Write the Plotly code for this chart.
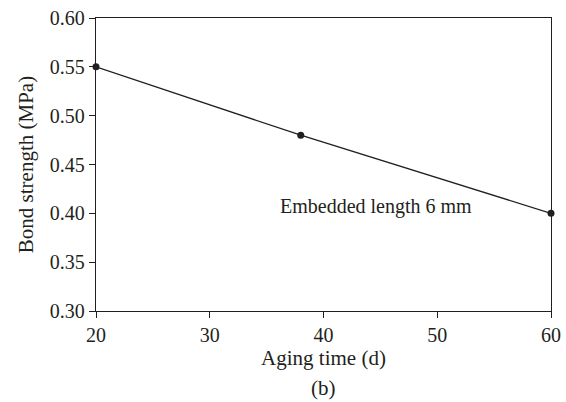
import plotly.graph_objects as go

aging_days = [20, 38, 60]
bond_strength = [0.55, 0.48, 0.40]
x_ticks = [20, 30, 40, 50, 60]
y_ticks = [0.30, 0.35, 0.40, 0.45, 0.50, 0.55, 0.60]

ink = "#231f20"
font = "Liberation Serif, Times New Roman, serif"
fs = 20
fs_title = 21

fig = go.Figure()
fig.add_trace(go.Scatter(
    x=aging_days, y=bond_strength, mode="lines+markers",
    line=dict(color=ink, width=1.3),
    marker=dict(color=ink, size=7),
    cliponaxis=False, showlegend=False,
))

fig.add_annotation(x=44.6, y=0.4065, text="Embedded length 6 mm", showarrow=False,
                   font=dict(family=font, size=fs, color=ink))
fig.add_annotation(x=0.5, y=-0.263, xref="paper", yref="paper", text="(b)", showarrow=False,
                   xanchor="center", yanchor="middle",
                   font=dict(family=font, size=fs_title, color=ink))

fig.update_xaxes(range=[20, 60], tickvals=x_ticks, ticks="outside", ticklen=6, tickwidth=1.3,
                 tickcolor=ink, showline=True, linecolor=ink, linewidth=1.3, mirror=True,
                 showgrid=False, zeroline=False, automargin=False,
                 tickfont=dict(family=font, size=fs, color=ink),
                 title=dict(text="Aging time (d)", standoff=5, font=dict(family=font, size=fs_title, color=ink)))
fig.update_yaxes(range=[0.30, 0.60], tickvals=y_ticks, tickformat=".2f", ticks="outside", ticklen=6,
                 tickwidth=1.3, tickcolor=ink, showline=True, linecolor=ink, linewidth=1.3, mirror=True,
                 showgrid=False, zeroline=False, automargin=False,
                 tickfont=dict(family=font, size=fs, color=ink),
                 title=dict(text="Bond strength (MPa)", standoff=10, font=dict(family=font, size=fs_title, color=ink)))

fig.update_layout(width=566, height=402, margin=dict(l=96, r=15, t=18, b=91, autoexpand=False),
                  plot_bgcolor="white", paper_bgcolor="white")
fig.write_html("out.html")
